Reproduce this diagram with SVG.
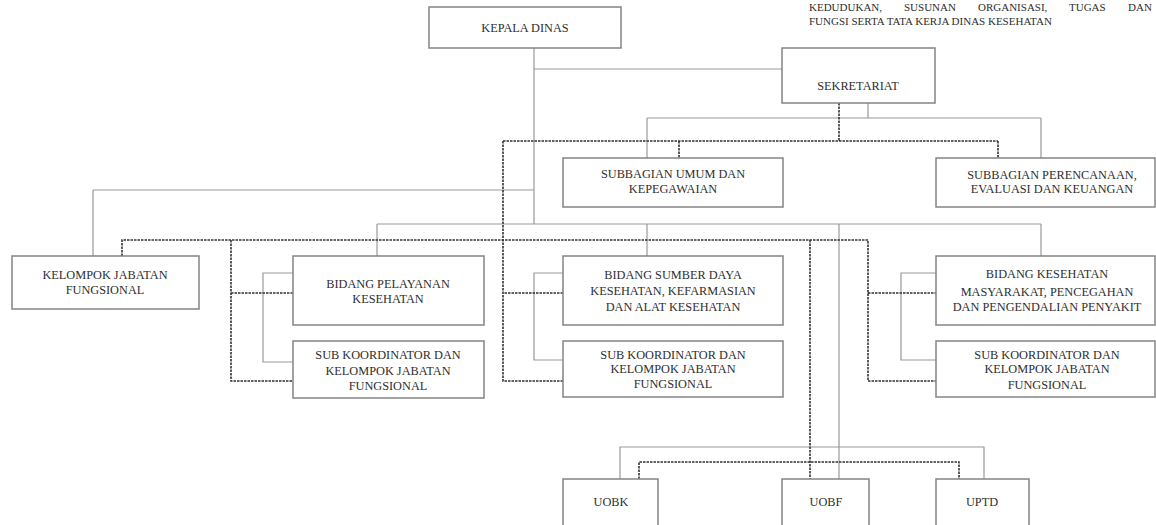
<svg xmlns="http://www.w3.org/2000/svg" width="1156" height="525" viewBox="0 0 1156 525">
<style>
.box{fill:#fff;stroke:#848484;stroke-width:1.5}
.t{font-family:"Liberation Serif","Times New Roman",serif;font-size:12.3px;fill:#2e2e2e;text-anchor:middle}
.hd{font-family:"Liberation Serif","Times New Roman",serif;font-size:11px;fill:#2e2e2e}
.s{fill:none;stroke:#999;stroke-width:1.2}
.d{fill:none;stroke:#333;stroke-width:1.6;stroke-dasharray:2.5 1}
</style>
<rect width="1156" height="525" fill="#fff"/>
<g id="header">
<text class="hd" y="11"><tspan x="809">KEDUDUKAN,</tspan><tspan x="904">SUSUNAN</tspan><tspan x="978">ORGANISASI,</tspan><tspan x="1069">TUGAS</tspan><tspan x="1128">DAN</tspan></text>
<text class="hd" x="809" y="25">FUNGSI SERTA TATA KERJA DINAS KESEHATAN</text>
</g>
<g id="connectors">
<path class="s" d="M534 48V224M534 69H782M93 190H534M93 190V256M868 103V118M647 118H1041M647 118V158M1041 118V158M377 224H1041M377 224V256M647 224V256M1041 224V256M839 224V479M293 273H263V362H293M563 273H534V360H563M936 273H901V360H936M620 479V447H984V479"/>
<path class="d" d="M839 103V141M503 141H998M679 141V158M998 141V158M563 293H503M503 141V381H563M122 256V240H868V381H936M868 293H936M231 240V381H293M231 293H293M810 240V479M639 479V462H959V479"/>
</g>
<g id="kepala-dinas"><rect class="box" x="429" y="7" width="192" height="41"/><text class="t" x="525" y="32">KEPALA DINAS</text></g>
<g id="sekretariat"><rect class="box" x="782" y="48" width="153" height="55"/><text class="t" x="858" y="90">SEKRETARIAT</text></g>
<g id="subbagian-umum"><rect class="box" x="563" y="158" width="220" height="49"/><text class="t" x="673" y="178">SUBBAGIAN UMUM DAN</text><text class="t" x="673" y="193">KEPEGAWAIAN</text></g>
<g id="subbagian-perencanaan"><rect class="box" x="936" y="158" width="219" height="49"/><text class="t" x="1052" y="179">SUBBAGIAN PERENCANAAN,</text><text class="t" x="1052" y="193">EVALUASI DAN KEUANGAN</text></g>
<g id="kelompok-jabatan"><rect class="box" x="12" y="256" width="187" height="53"/><text class="t" x="105" y="279">KELOMPOK JABATAN</text><text class="t" x="105" y="294">FUNGSIONAL</text></g>
<g id="bidang-pelayanan"><rect class="box" x="293" y="256" width="191" height="69"/><text class="t" x="388" y="288">BIDANG PELAYANAN</text><text class="t" x="388" y="303">KESEHATAN</text></g>
<g id="sub-koordinator-1"><rect class="box" x="293" y="341" width="191" height="57"/><text class="t" x="388" y="359">SUB KOORDINATOR DAN</text><text class="t" x="388" y="375">KELOMPOK JABATAN</text><text class="t" x="388" y="390">FUNGSIONAL</text></g>
<g id="bidang-sumber-daya"><rect class="box" x="563" y="256" width="220" height="69"/><text class="t" x="673" y="279">BIDANG SUMBER DAYA</text><text class="t" x="673" y="295">KESEHATAN, KEFARMASIAN</text><text class="t" x="673" y="311">DAN ALAT KESEHATAN</text></g>
<g id="sub-koordinator-2"><rect class="box" x="563" y="341" width="220" height="56"/><text class="t" x="673" y="359">SUB KOORDINATOR DAN</text><text class="t" x="673" y="373">KELOMPOK JABATAN</text><text class="t" x="673" y="388">FUNGSIONAL</text></g>
<g id="bidang-kesmas"><rect class="box" x="936" y="256" width="219" height="69"/><text class="t" x="1047" y="278">BIDANG KESEHATAN</text><text class="t" x="1047" y="296">MASYARAKAT, PENCEGAHAN</text><text class="t" x="1047" y="311">DAN PENGENDALIAN PENYAKIT</text></g>
<g id="sub-koordinator-3"><rect class="box" x="936" y="341" width="219" height="56"/><text class="t" x="1047" y="359">SUB KOORDINATOR DAN</text><text class="t" x="1047" y="373">KELOMPOK JABATAN</text><text class="t" x="1047" y="389">FUNGSIONAL</text></g>
<g id="uobk"><rect class="box" x="563" y="479" width="95" height="52"/><text class="t" x="611" y="506">UOBK</text></g>
<g id="uobf"><rect class="box" x="782" y="479" width="87" height="52"/><text class="t" x="826" y="506">UOBF</text></g>
<g id="uptd"><rect class="box" x="936" y="479" width="93" height="52"/><text class="t" x="982" y="506">UPTD</text></g>
</svg>
